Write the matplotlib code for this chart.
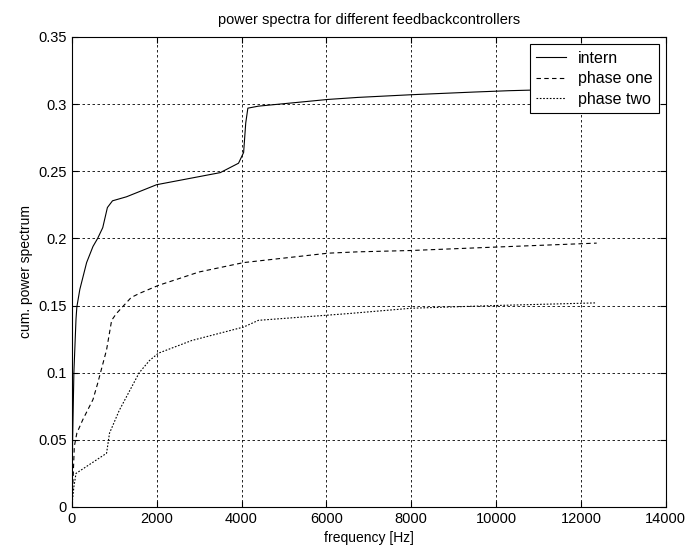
import matplotlib
matplotlib.use("Agg")
import matplotlib.pyplot as plt

plt.rcParams["font.family"] = ["Liberation Sans", "DejaVu Sans"]

# cumulative power spectra
intern_f = [0, 20, 50, 100, 120, 190, 350, 500, 610, 730, 840, 960, 1290, 2000,
            3000, 3500, 3930, 4050, 4100, 4150, 4400, 6040, 6740, 8000, 9480,
            10300, 11500, 12400]
intern_p = [0, 0.05, 0.10, 0.14, 0.149, 0.162, 0.182, 0.194, 0.200, 0.208, 0.223,
            0.228, 0.231, 0.240, 0.246, 0.249, 0.256, 0.264, 0.286, 0.297, 0.2985,
            0.3035, 0.305, 0.307, 0.309, 0.310, 0.311, 0.311]

one_f = [0, 30, 60, 120, 260, 500, 610, 820, 940, 1050, 1400, 1590, 2040, 3000,
         4050, 6040, 6740, 8000, 9950, 12370]
one_p = [0, 0.02, 0.045, 0.055, 0.065, 0.080, 0.092, 0.117, 0.139, 0.144, 0.156,
         0.159, 0.165, 0.175, 0.182, 0.189, 0.190, 0.191, 0.1935, 0.1965]

two_f = [0, 50, 100, 820, 890, 1120, 1590, 1830, 2040, 2830, 4050, 4400, 6510,
         8000, 9950, 12370]
two_p = [0, 0.015, 0.025, 0.040, 0.055, 0.072, 0.100, 0.109, 0.1145, 0.124, 0.134,
         0.139, 0.144, 0.148, 0.150, 0.152]

fig = plt.figure(figsize=(6.9, 5.57), dpi=100)
ax = fig.add_axes([0.104, 0.0898, 0.861, 0.8438])

ax.plot(intern_f, intern_p, color="black", lw=0.8, ls="-", label="intern")
ax.plot(one_f, one_p, color="black", lw=0.8, ls=(0, (4, 3)), label="phase one")
ax.plot(two_f, two_p, color="black", lw=0.8, ls=(0, (1.5, 1.5)), label="phase two")

ax.set_xlim(0, 14000)
ax.set_ylim(0, 0.35)
ax.set_xticks(range(0, 14001, 2000))
ax.set_yticks([0, 0.05, 0.1, 0.15, 0.2, 0.25, 0.3, 0.35])
ax.set_yticklabels(["0", "0.05", "0.1", "0.15", "0.2", "0.25", "0.3", "0.35"])
ax.grid(True, color="black", ls=(0, (3, 3)), lw=0.6)
ax.tick_params(direction="in", labelsize=10.5, length=4, top=True, right=True)
for s in ax.spines.values():
    s.set_linewidth(0.8)

ax.set_xlabel("frequency [Hz]", fontsize=10)
ax.set_ylabel("cum. power spectrum", fontsize=10)
ax.set_title("power spectra for different feedbackcontrollers", fontsize=10.5, pad=9)

leg = ax.legend(loc="upper right", fontsize=11.5, fancybox=False, framealpha=1,
                edgecolor="black", handlelength=1.9, handletextpad=0.7,
                labelspacing=0.35, borderaxespad=0.45)
leg.get_frame().set_linewidth(0.8)

fig.savefig("out.png", dpi=100)
